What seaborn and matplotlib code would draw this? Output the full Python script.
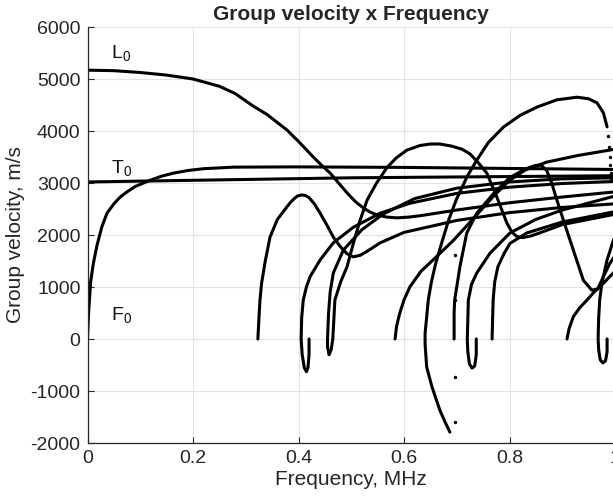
import matplotlib
matplotlib.use("Agg")
import matplotlib.pyplot as plt
import pandas as pd
import seaborn as sns

# dispersion curves: frequency (MHz) and group velocity (m/s)
l0_f = [0, 0.05, 0.1, 0.15, 0.2, 0.25, 0.28, 0.314, 0.34, 0.378, 0.40, 0.428, 0.445, 0.46, 0.476, 0.492, 0.508,
        0.523, 0.536, 0.549, 0.567, 0.587, 0.61, 0.63, 0.7, 0.8, 0.9, 1.0]
l0_v = [5170, 5160, 5125, 5075, 5000, 4860, 4720, 4480, 4320, 4020, 3800, 3500, 3330, 3190, 3000, 2810, 2640,
        2520, 2440, 2385, 2345, 2330, 2345, 2370, 2480, 2620, 2730, 2830]

t0_f = [0, 0.25, 0.5, 0.75, 1.0]
t0_v = [3020, 3060, 3100, 3120, 3140]

f0_f = [0, 0.001, 0.002, 0.004, 0.006, 0.011, 0.018, 0.027, 0.037, 0.05, 0.062, 0.075, 0.09, 0.113, 0.14, 0.163,
        0.19, 0.22, 0.277, 0.4, 0.6, 0.8, 1.0]
f0_v = [0, 250, 500, 800, 1100, 1450, 1800, 2150, 2420, 2600, 2730, 2830, 2930, 3030, 3130, 3190,
        3240, 3275, 3305, 3310, 3300, 3280, 3260]

mb_f = [0.323, 0.325, 0.327, 0.330, 0.337, 0.346, 0.36, 0.378, 0.385, 0.392, 0.398, 0.406, 0.413, 0.42, 0.43,
        0.441, 0.455, 0.466, 0.479, 0.492, 0.504, 0.517, 0.529, 0.555, 0.6, 0.7, 0.8, 0.9, 1.0]
mb_v = [0, 400, 750, 1070, 1500, 1960, 2300, 2540, 2630, 2700, 2750, 2770, 2760, 2720, 2600,
        2420, 2170, 1960, 1780, 1640, 1580, 1610, 1680, 1850, 2050, 2280, 2430, 2530, 2600]

h1_f = [0.420, 0.420, 0.418, 0.415, 0.411, 0.407, 0.405, 0.406, 0.409, 0.415, 0.422, 0.441, 0.466, 0.504,
        0.555, 0.611, 0.7, 0.8, 0.9, 1.0]
h1_v = [0, -300, -550, -630, -550, -300, 0, 400, 750, 1000, 1200, 1520, 1850, 2150,
        2420, 2610, 2800, 2920, 2990, 3030]

h2a_f = [0.458, 0.455, 0.455, 0.457, 0.46, 0.466, 0.485, 0.52, 0.56, 0.62, 0.7, 0.8, 0.9, 1.0]
h2a_v = [-300, -150, 0, 500, 900, 1270, 1710, 2100, 2400, 2700, 2900, 3020, 3080, 3100]

h2b_f = [0.458, 0.462, 0.465, 0.469, 0.48, 0.492, 0.504, 0.517, 0.53, 0.548, 0.568, 0.585, 0.605, 0.63, 0.65,
         0.668, 0.69, 0.71, 0.725, 0.74, 0.757, 0.776, 0.795, 0.805, 0.814, 0.825, 0.84, 0.86, 0.9, 1.0]
h2b_v = [-300, -200, 0, 750, 1100, 1390, 1840, 2290, 2670, 3000, 3300, 3480, 3630, 3720, 3750,
         3750, 3710, 3650, 3560, 3400, 3190, 2730, 2230, 2050, 1970, 1950, 1980, 2050, 2200, 2400]

m58_f = [0.583, 0.586, 0.592, 0.600, 0.611, 0.632, 0.655, 0.694, 0.73, 0.77, 0.80, 0.83, 0.87, 0.93, 1.0]
m58_v = [0, 250, 500, 750, 1000, 1300, 1520, 1900, 2300, 2750, 3050, 3250, 3400, 3530, 3650]

hump_f = [0.687, 0.678, 0.668, 0.653, 0.643, 0.640, 0.640, 0.646, 0.652, 0.66, 0.67, 0.685, 0.70, 0.72, 0.738,
          0.76, 0.789, 0.82, 0.852, 0.89, 0.928, 0.95, 0.966, 0.978, 0.985]
hump_v = [-1790, -1600, -1370, -920, -540, -100, 110, 750, 1100, 1450, 1800, 2300, 2700, 3130, 3440,
          3780, 4080, 4300, 4460, 4600, 4650, 4620, 4540, 4350, 4080]

m70_f = [0.695, 0.695, 0.696, 0.70, 0.706, 0.719, 0.738, 0.77, 0.80, 0.83, 0.85, 0.86, 0.87, 0.88, 0.889,
         0.902, 0.921, 0.94, 0.956, 0.967, 0.978, 0.99, 1.0]
m70_v = [0, 500, 750, 1000, 1390, 2040, 2420, 2800, 3100, 3270, 3340, 3340, 3250, 3000, 2700,
         2290, 1710, 1130, 940, 960, 1200, 1450, 1600]

h3_f = [0.737, 0.737, 0.734, 0.729, 0.724, 0.721, 0.72, 0.722, 0.728, 0.738, 0.763, 0.801, 0.85, 0.9, 1.0]
h3_v = [0, -300, -520, -560, -480, -250, 0, 750, 1050, 1270, 1650, 2040, 2300, 2480, 2750]

m76_f = [0.767, 0.768, 0.769, 0.772, 0.778, 0.79, 0.801, 0.833, 0.9, 1.0]
m76_v = [0, 400, 750, 1100, 1390, 1650, 1840, 2040, 2250, 2450]

m91_f = [0.909, 0.913, 0.921, 0.933, 0.947, 0.96, 0.975, 0.99, 1.0]
m91_v = [0, 200, 430, 600, 750, 900, 1040, 1200, 1300]

h4_f = [0.985, 0.985, 0.982, 0.977, 0.972, 0.969, 0.968, 0.969, 0.971, 0.975, 0.985, 0.997, 1.005]
h4_v = [0, -250, -420, -460, -400, -200, 0, 400, 750, 1070, 1520, 1900, 2100]

# loose solver points
dot_f = [0.697, 0.697, 0.697, 0.697, 0.987, 0.989, 0.990, 0.991, 0.992, 0.993]
dot_v = [-1590, -730, 750, 1615, 3900, 3700, 3500, 3350, 3200, 3050]

labels = ["L$_0$", "T$_0$", "F$_0$"]
label_f = [0.045, 0.045, 0.045]
label_v = [5400, 3190, 365]

curves = {
    "L0": (l0_f, l0_v), "T0": (t0_f, t0_v), "F0": (f0_f, f0_v), "B": (mb_f, mb_v),
    "H1": (h1_f, h1_v), "H2a": (h2a_f, h2a_v), "H2b": (h2b_f, h2b_v), "M58": (m58_f, m58_v),
    "HUMP": (hump_f, hump_v), "M70": (m70_f, m70_v), "H3": (h3_f, h3_v), "M76": (m76_f, m76_v),
    "M91": (m91_f, m91_v), "H4": (h4_f, h4_v),
}
df = pd.concat(
    [pd.DataFrame({"curve": k, "freq": f, "vel": v}) for k, (f, v) in curves.items()],
    ignore_index=True,
)
dots = pd.DataFrame({"freq": dot_f, "vel": dot_v})

sns.set_theme(style="whitegrid")
plt.rcParams["font.family"] = "Liberation Sans"
plt.rcParams["mathtext.fontset"] = "custom"
plt.rcParams["mathtext.rm"] = "Liberation Sans"
plt.rcParams["mathtext.it"] = "Liberation Sans"
plt.rcParams["axes.unicode_minus"] = False

fig = plt.figure(figsize=(6.13, 4.99), dpi=100)
ax = fig.add_axes([87.5 / 613, 56 / 499, 527.5 / 613, 416 / 499])

sns.lineplot(data=df, x="freq", y="vel", units="curve", estimator=None, sort=False,
             color="black", lw=2.2, ax=ax)
sns.scatterplot(data=dots, x="freq", y="vel", color="black", s=6, linewidth=0, ax=ax)

for txt, f, v in zip(labels, label_f, label_v):
    ax.text(f, v, txt, fontsize=14, ha="left", va="baseline", color="#111111")

ax.set_xlim(0, 1)
ax.set_ylim(-2000, 6000)
ax.set_xticks([0, 0.2, 0.4, 0.6, 0.8, 1])
ax.set_xticklabels(["0", "0.2", "0.4", "0.6", "0.8", "1"])
ax.set_yticks(range(-2000, 6001, 1000))
ax.grid(True, color="#e3e3e3", lw=0.8)
ax.set_facecolor("white")
for side in ["top", "right"]:
    ax.spines[side].set_visible(False)
for side in ["left", "bottom"]:
    ax.spines[side].set_color("#262626")
    ax.spines[side].set_linewidth(0.9)
ax.tick_params(direction="in", length=4, width=0.8, color="#262626",
               labelsize=14, labelcolor="#262626", bottom=True, left=True, pad=5)
ax.set_title("Group velocity x Frequency", fontsize=15, fontweight="bold", pad=5)
ax.set_xlabel("Frequency, MHz", fontsize=15, color="#262626", labelpad=2)
ax.set_ylabel("Group velocity, m/s", fontsize=15, color="#262626", labelpad=4)

fig.savefig("out.png", dpi=100)
